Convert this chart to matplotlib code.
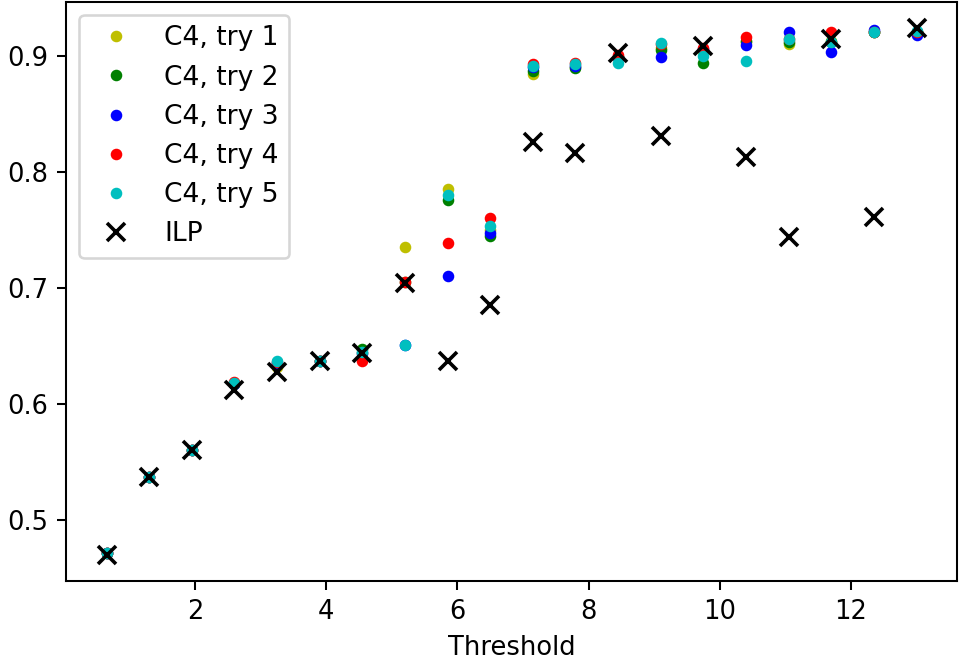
import matplotlib
matplotlib.use("Agg")
from matplotlib import pyplot as plt

thresholds = [0.65, 1.3, 1.95, 2.6, 3.25, 3.9, 4.55, 5.2, 5.85, 6.5,
              7.15, 7.8, 8.45, 9.1, 9.75, 10.4, 11.05, 11.7, 12.35, 13.0]

c4_try1 = [0.471, 0.537, 0.560, 0.617, 0.632, 0.637, 0.644, 0.735, 0.785, 0.750,
           0.884, 0.890, 0.899, 0.907, 0.904, 0.912, 0.910, 0.913, 0.920, 0.920]
c4_try2 = [0.471, 0.537, 0.560, 0.617, 0.634, 0.637, 0.647, 0.705, 0.776, 0.745,
           0.887, 0.889, 0.899, 0.905, 0.894, 0.913, 0.912, 0.912, 0.920, 0.920]
c4_try3 = [0.471, 0.537, 0.560, 0.617, 0.635, 0.637, 0.644, 0.651, 0.710, 0.747,
           0.890, 0.891, 0.899, 0.899, 0.906, 0.909, 0.920, 0.903, 0.922, 0.918]
c4_try4 = [0.471, 0.537, 0.560, 0.619, 0.636, 0.637, 0.637, 0.705, 0.739, 0.760,
           0.893, 0.894, 0.901, 0.910, 0.907, 0.916, 0.914, 0.920, 0.920, 0.920]
c4_try5 = [0.471, 0.537, 0.560, 0.618, 0.637, 0.637, 0.645, 0.651, 0.780, 0.753,
           0.891, 0.893, 0.894, 0.911, 0.900, 0.895, 0.914, 0.912, 0.920, 0.921]
ilp = [0.470, 0.537, 0.560, 0.612, 0.627, 0.637, 0.644, 0.704, 0.637, 0.685,
       0.826, 0.816, 0.902, 0.831, 0.908, 0.813, 0.744, 0.914, 0.761, 0.924]

if __name__ == "__main__":
    dpi = 185
    fig = plt.figure(figsize=(959 / dpi, 662 / dpi), dpi=dpi)
    fig.subplots_adjust(left=66 / 959, right=957 / 959, top=1 - 1.5 / 662, bottom=81 / 662)
    ax = fig.add_subplot(111)

    tries = [c4_try1, c4_try2, c4_try3, c4_try4, c4_try5]
    styles = ["y.", "g.", "b.", "r.", "c."]
    for i, (vals, style) in enumerate(zip(tries, styles)):
        ax.plot(thresholds, vals, style, markersize=7, label="C4, try %d" % (i + 1))
    ax.plot(thresholds, ilp, "kx", markersize=7, markeredgewidth=1.4, label="ILP")

    ax.set_xlabel("Threshold")
    ax.legend(loc="upper left", prop={"size": 10.3})
    fig.savefig("out.png", dpi=dpi)
